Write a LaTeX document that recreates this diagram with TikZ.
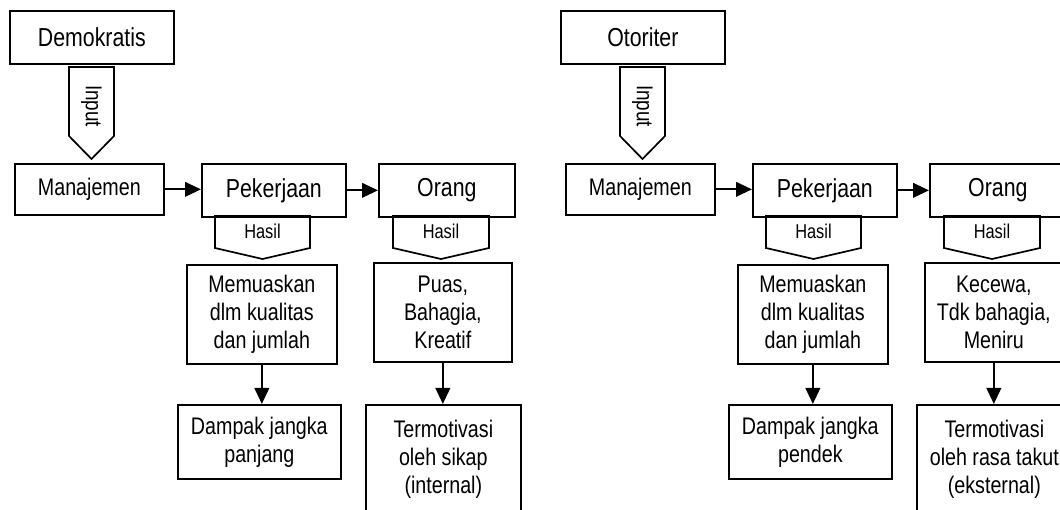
\documentclass[tikz,border=0pt]{standalone}
\usepackage{fontspec}
\setmainfont{Liberation Sans}[FakeStretch=0.82]
\usetikzlibrary{arrows.meta}

\newcommand{\headfont}{\fontsize{26}{29}\selectfont}
\newcommand{\boxfont}{\fontsize{24}{28}\selectfont}
\newcommand{\tagfont}{\fontsize{20}{22}\selectfont}
\newcommand{\inputfont}{\fontsize{23}{25}\selectfont}

\tikzset{
    box/.style={draw, line width=1.7pt, inner sep=0pt, align=center, font=\boxfont, anchor=north west},
    tag/.style={draw, line width=1.7pt, line join=miter},
    flow/.style={line width=2.3pt, -{Triangle[length=16pt,width=14.5pt]}},
}

\begin{document}
\begin{tikzpicture}[x=1pt, y=-1pt]
    \useasboundingbox (0,0) rectangle (1060,510);
    \fill[white] (0,0) rectangle (1060,510);
    \clip (0,0) rectangle (1060,510);

    % Left: Demokratis, right: Otoriter
    \foreach \sx/\lead/\len/\feel/\motive in {
        0/Demokratis/panjang/{Puas,\\Bahagia,\\Kreatif}/{oleh sikap\\(internal)},
        551/Otoriter/pendek/{Kecewa,\\Tdk bahagia,\\Meniru}/{oleh rasa takut\\(eksternal)}} {
    \begin{scope}[xshift=\sx pt]
        \node [box, font=\headfont, minimum width=164pt, minimum height=53pt] (lead\sx) at (9,10) {\lead};

        % Input
        \draw [tag] (69,67) -- (114,67) -- (114,136) -- (91.5,159) -- (69,136) -- cycle;
        \node [rotate=-90, font=\inputfont, inner sep=0pt] (input\sx) at (91.5,106) {Input};

        % Middle row
        \node [box, minimum width=149pt, minimum height=51pt] (mgmt\sx) at (14,163) {Manajemen};
        \node [box, font=\headfont, minimum width=144pt, minimum height=53pt] (job\sx) at (201,163) {Pekerjaan};
        \node [box, font=\headfont, minimum width=136pt, minimum height=53pt] (ppl\sx) at (378,163) {Orang};
        \draw [flow] (mgmt\sx.east) -- (mgmt\sx.east -| job\sx.west);
        \draw [flow] ([xshift=-2pt]job\sx.east) -- (ppl\sx.west);

        % Hasil
        \draw [tag] (215,216) -- (215,248) -- (262.5,259) -- (310,248) -- (310,216) -- cycle;
        \node [font=\tagfont, anchor=base] (resjob\sx) at (262.5,239) {Hasil};
        \draw [tag] (393,216) -- (393,248) -- (441,259) -- (489,248) -- (489,216) -- cycle;
        \node [font=\tagfont, anchor=base] (resppl\sx) at (441,239) {Hasil};

        % Outcomes
        \node [box, minimum width=150pt, minimum height=99pt] (sat\sx) at (186,264) {Memuaskan\\dlm kualitas\\dan jumlah};
        \node [box, minimum width=138pt, minimum height=99pt] (feel\sx) at (373,262) {\feel};

        % Effects
        \node [box, minimum width=163pt, minimum height=74pt] (impact\sx) at (177,404) {Dampak jangka\\\len};
        \node [box, minimum width=155pt, minimum height=130pt,
            label={[font=\boxfont, align=center, anchor=north, inner sep=0pt, yshift=-16pt]north:{Termotivasi\\\motive}}]
            (motiv\sx) at (365,404) {};
        \draw [flow] (sat\sx.south) -- (sat\sx.south |- impact\sx.north);
        \draw [flow] (feel\sx.south) -- (feel\sx.south |- motiv\sx.north);
    \end{scope}
    }
\end{tikzpicture}
\end{document}
